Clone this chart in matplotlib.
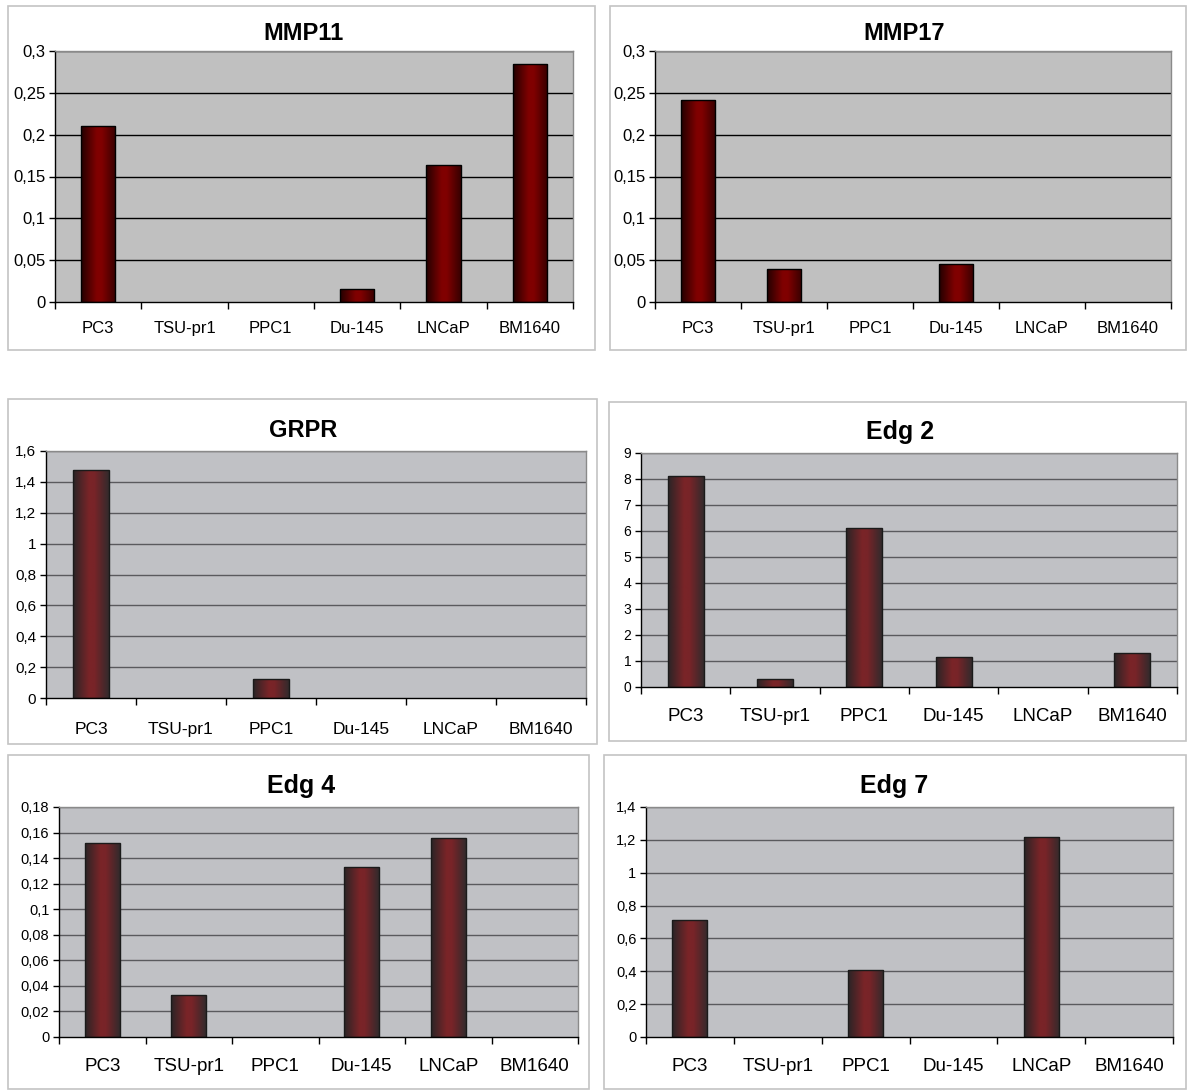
import numpy as np
import matplotlib
matplotlib.use("Agg")
import matplotlib.pyplot as plt
from matplotlib.patches import Rectangle
from matplotlib.colors import LinearSegmentedColormap
from matplotlib.ticker import FixedLocator, FuncFormatter

plt.rcParams['font.family'] = ['Liberation Sans', 'DejaVu Sans']

categories = ["PC3", "TSU-pr1", "PPC1", "Du-145", "LNCaP", "BM1640"]

mmp11 = [0.21, 0.0, 0.0, 0.015, 0.164, 0.285]
mmp17 = [0.241, 0.04, 0.0, 0.045, 0.0, 0.0]
grpr = [1.475, 0.0, 0.12, 0.0, 0.0, 0.0]
edg2 = [8.1, 0.3, 6.1, 1.15, 0.0, 1.3]
edg4 = [0.152, 0.033, 0.0, 0.133, 0.156, 0.0]
edg7 = [0.715, 0.0, 0.405, 0.0, 1.215, 0.0]

mmp11_ticks = [0, 0.05, 0.1, 0.15, 0.2, 0.25, 0.3]
mmp17_ticks = [0, 0.05, 0.1, 0.15, 0.2, 0.25, 0.3]
grpr_ticks = [0, 0.2, 0.4, 0.6, 0.8, 1.0, 1.2, 1.4, 1.6]
edg2_ticks = [0, 1, 2, 3, 4, 5, 6, 7, 8, 9]
edg4_ticks = [0, 0.02, 0.04, 0.06, 0.08, 0.1, 0.12, 0.14, 0.16, 0.18]
edg7_ticks = [0, 0.2, 0.4, 0.6, 0.8, 1.0, 1.2, 1.4]

W, H = 1187, 1090
fig = plt.figure(figsize=(W / 100, H / 100), dpi=100)
fig.patch.set_facecolor("white")

cmap_old = LinearSegmentedColormap.from_list(
    "old", [(0, "#240000"), (0.45, "#800000"), (0.6, "#800000"), (1, "#380000")])
cmap_new = LinearSegmentedColormap.from_list(
    "new", [(0, "#2b2426"), (0.45, "#7a2428"), (0.6, "#782428"), (1, "#342a2c")])


def frame(x0, y0, x1, y1):
    fig.patches.append(Rectangle((x0 / W, 1 - y1 / H), (x1 - x0) / W, (y1 - y0) / H,
                                 transform=fig.transFigure, fill=False,
                                 edgecolor="#c4c4c4", linewidth=1.2))


def comma(v, pos=None):
    s = f"{v:g}"
    return s.replace(".", ",")


def panel(box, title, values, ticks, title_xy, style, tick_fs, cat_fs, title_fs, cat_y):
    l, r, t, b = box
    ax = fig.add_axes([l / W, 1 - b / H, (r - l) / W, (b - t) / H])
    old = style == "old"
    ax.set_facecolor("#c0c0c0" if old else "#c0c1c5")
    x = np.arange(len(categories))
    grid_c = "#000000" if old else "#5a5a5e"
    for tv in ticks[1:]:
        ax.axhline(tv, color=grid_c, linewidth=1.0, zorder=1)
    bars = ax.bar(x, values, width=0.4, color="#800000" if old else "#7a2428",
                  edgecolor="none", zorder=2)
    cmap = cmap_old if old else cmap_new
    grad = np.linspace(0, 1, 64).reshape(1, -1)
    for p in bars:
        h = p.get_height()
        if h <= 0:
            continue
        im = ax.imshow(grad, cmap=cmap, aspect="auto", zorder=3,
                       extent=[p.get_x(), p.get_x() + p.get_width(), 0, h],
                       interpolation="bilinear")
        im.set_clip_path(p)
    vals = np.array(values)
    mask = vals > 0
    ax.bar(x[mask], vals[mask], width=0.4, fill=False,
           edgecolor="#000000" if old else "#1a1a1a", linewidth=1.0, zorder=4)
    ax.set_xlim(-0.5, 5.5)
    ax.set_ylim(0, ticks[-1])

    ax.yaxis.set_major_locator(FixedLocator(ticks))
    ax.yaxis.set_major_formatter(FuncFormatter(comma))
    ax.tick_params(axis="y", direction="out", length=4, width=1, labelsize=tick_fs,
                   colors="black", pad=3)
    ax.set_xticks(x)
    ax.set_xticklabels(categories)
    ax.set_xticks(np.arange(-0.5, 6.0, 1.0), minor=True)
    ax.tick_params(axis="x", which="major", length=0, labelsize=cat_fs, pad=0)
    ax.tick_params(axis="x", which="minor", direction="out", length=5, width=1)
    ax.xaxis.set_tick_params(pad=(cat_y - b) * 0.72 - cat_fs * 0.35)

    ax.spines["left"].set_color("black")
    ax.spines["bottom"].set_color("black")
    ax.spines["top"].set_color("#8a8a8a")
    ax.spines["right"].set_color("#8a8a8a")
    for s in ax.spines.values():
        s.set_linewidth(1.0)
    ax.spines["bottom"].set_zorder(5)

    fig.text(title_xy[0] / W, 1 - title_xy[1] / H, title, ha="center", va="center",
             fontsize=title_fs, fontweight="bold", color="black")
    return ax


frame(8, 6, 595, 350)
frame(610, 6, 1186, 350)
frame(8, 399, 597, 744)
frame(609, 402, 1186, 741)
frame(8, 755, 589, 1089)
frame(604, 755, 1186, 1089)

panel((55, 573, 51, 302), "MMP11", mmp11, mmp11_ticks, (304, 33), "old", 12, 12, 17, 327)
panel((655, 1171, 51, 302), "MMP17", mmp17, mmp17_ticks, (904, 33), "old", 12, 12, 17, 327)
panel((46, 586, 451, 698), "GRPR", grpr, grpr_ticks, (303, 430), "new", 11, 12.5, 17, 728)
panel((641, 1177, 453, 687), "Edg 2", edg2, edg2_ticks, (900, 432), "new", 10, 13.5, 18, 715)
panel((59, 578, 807, 1037), "Edg 4", edg4, edg4_ticks, (301, 786), "new", 10.5, 13.5, 18, 1065)
panel((646, 1173, 807, 1037), "Edg 7", edg7, edg7_ticks, (894, 786), "new", 10.5, 13.5, 18, 1065)

fig.savefig("out.png", dpi=100, facecolor="white")
